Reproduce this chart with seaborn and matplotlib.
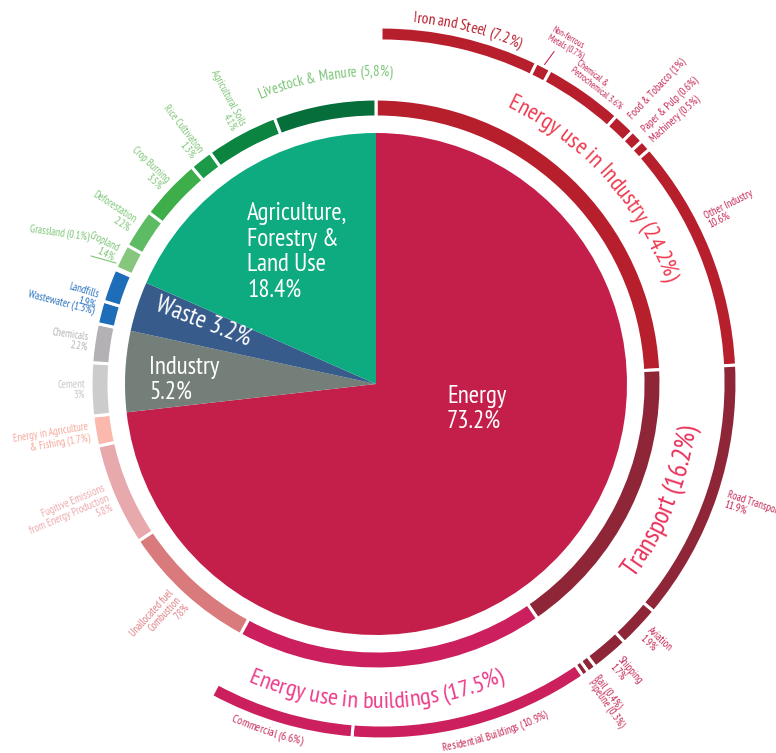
import numpy as np
import matplotlib
matplotlib.use("Agg")
import matplotlib.pyplot as plt
import matplotlib.font_manager as fm
from matplotlib.font_manager import FontProperties
import seaborn as sns

# ---------------- data ----------------
sector_labels = ["Energy\n73.2%", "Industry\n5.2%", "Waste 3.2%",
                 "Agriculture,\nForestry &\nLand Use\n18.4%"]
sector_share = [73.2, 5.2, 3.2, 18.4]

ring_labels = ["Energy use in Industry (24.2%)", "Transport (16.2%)",
               "Energy use in buildings (17.5%)",
               "Unallocated fuel\nCombustion\n7.8%",
               "Fugitive Emissions\nfrom Energy Production\n5.8%",
               "Energy in Agriculture\n& Fishing (1.7%)",
               "Cement\n3%", "Chemicals\n2.2%", "Wastewater (1.3%)", "Landfills\n1.9%",
               "Grassland (0.1%)", "Cropland\n1.4%", "Deforestation\n2.2%",
               "Crop Burning\n3.5%", "Rice Cultivation\n1.3%",
               "Agricultural Soils\n4.1%", "Livestock & Manure (5,8%)"]
ring_share = [24.2, 16.2, 17.5, 7.8, 5.8, 1.7, 3.0, 2.2, 1.3, 1.9,
              0.1, 1.4, 2.2, 3.5, 1.3, 4.1, 5.8]

industry_labels = ["Iron and Steel (7.2%)", "Non-ferrous\nMetals (0.7%)",
                   "Chemical &\nPetrochemical 3.6%", "Food & Tobacco (1%)",
                   "Paper & Pulp (0.6%)", "Machinery (0.5%)", "Other Industry\n10.6%"]
industry_share = [7.2, 0.7, 3.6, 1.0, 0.6, 0.5, 10.6]
transport_labels = ["Road Transport\n11.9%", "Aviation\n1.9%", "Shipping\n1.7%",
                    "Rail (0.4%)", "Pipeline (0.3%)"]
transport_share = [11.9, 1.9, 1.7, 0.4, 0.3]
buildings_labels = ["Residential Buildings (10.9%)", "Commercial (6.6%)"]
buildings_share = [10.9, 6.6]

# ---------------- style ----------------
sns.set_theme(style="white")
avail = {f.name for f in fm.fontManager.ttflist}
FONT = "DejaVu Sans"
for cand in ["PT Sans Narrow", "Fira Sans Condensed", "Ubuntu Condensed",
             "Open Sans Condensed", "Roboto Condensed", "Liberation Sans Narrow"]:
    if cand in avail:
        FONT = cand
        break
plt.rcParams["font.family"] = [FONT, "DejaVu Sans"]

sector_colors = ["#C41F4B", "#737F78", "#375B8B", "#0EAA80"]
ring_colors = ["#B81F2D", "#8E2638", "#CC1F5E", "#D97A7D", "#E8A9AD", "#FBB9AD",
               "#CBCCCB", "#B3B1B3", "#1E6DB8", "#1E6DB8", "#86C77D", "#86C77D",
               "#5DBB63", "#3EAE4B", "#1C9A47", "#0B8440", "#056E3A"]
label_colors = ["#EE3B50", "#E8305A", "#EC3F8C", "#E07F83", "#EDA8AC", "#F6A79A",
                "#C6C6C6", "#B4B4B4", "#2A72C0", "#2A72C0", "#7CC576", "#7CC576",
                "#7CC576", "#7CC576", "#7CC576", "#7CC576", "#7CC576"]
SUB_TEXT = "#C62A55"

W, H = 776, 753
CX, CY = 376, 369          # pie centre (pixel units, y up)
OX, OY = 381, 370          # centre of the outer sub-sector ring

fig = plt.figure(figsize=(W / 100, H / 100), dpi=100)
ax = fig.add_axes([0, 0, 1, 1])


def fprops(size):
    return FontProperties(family=[FONT, "DejaVu Sans"], size=size)


def advances(s, fp):
    font = fm.get_font(fm.findfont(fp))
    font.set_size(fp.get_size_in_points(), 100)
    return np.array([font.load_char(ord(c)).linearHoriAdvance / 65536 for c in s])


def fit_size(s, width_px, ref=10.0):
    return ref * width_px / advances(s, fprops(ref)).sum()


def polar(cx, cy, r, deg):
    t = np.radians(deg)
    return cx + r * np.cos(t), cy + r * np.sin(t)


def arc_text(s, cx, cy, r, a0, a1, color, clockwise):
    """Write s along a circle of baseline radius r from angle a0 to a1."""
    span = abs(a1 - a0) * np.pi / 180 * r
    size = fit_size(s, span)
    fp = fprops(size)
    adv = advances(s, fp)
    pos = np.cumsum(adv) - adv / 2
    for ch, p in zip(s, pos):
        d = np.degrees(p / r)
        th = a0 - d if clockwise else a0 + d
        x, y = polar(cx, cy, r, th)
        ax.text(x, y, ch, rotation=(th - 90) if clockwise else (th + 90),
                rotation_mode="anchor", ha="center", va="baseline",
                fontproperties=fp, color=color)


def bounds(values, start=90.0):
    cum = np.concatenate([[0], np.cumsum(values)])
    return start - 3.6 * cum[:-1], start - 3.6 * cum[1:]


# ---------------- centre pie ----------------
ax.pie(sector_share, colors=sector_colors, startangle=90, counterclock=False,
       radius=251, center=(CX, CY), wedgeprops=dict(linewidth=0))

# ---------------- sector ring ----------------
ax.pie(ring_share, colors=ring_colors, startangle=90, counterclock=False,
       radius=285, center=(CX, CY),
       wedgeprops=dict(width=18, edgecolor="white", linewidth=2.2))

# ---------------- sub-sector ring (energy end uses) ----------------
outer_share = industry_share + transport_share + buildings_share
outer_colors = ([ring_colors[0]] * len(industry_share) + [ring_colors[1]] * len(transport_share)
                + [ring_colors[2]] * len(buildings_share))
rest = 100 - sum(outer_share)
wedges, _ = ax.pie(outer_share + [rest], colors=outer_colors + ["white"], startangle=90,
                   counterclock=False, radius=356, center=(OX, OY),
                   wedgeprops=dict(width=14, edgecolor="white", linewidth=2.2))
wedges[-1].set_visible(False)

# ---------------- centre labels ----------------
big = fit_size("Agriculture,", 100)
ax.text(447, 344, sector_labels[0], color="white", fontsize=big, ha="left", va="center",
        linespacing=1.1)
ax.text(149, 373, sector_labels[1], color="white", fontsize=big, ha="left", va="center",
        linespacing=1.1)
ax.text(203, 431, sector_labels[2], color="white", fontsize=big, ha="center", va="center",
        rotation=-21)
ax.text(247, 501, sector_labels[3], color="white", fontsize=big, ha="left", va="center",
        linespacing=1.15)

# ---------------- curved headings ----------------
arc_text(ring_labels[0], CX, CY, 306, 64.7, 19.4, label_colors[0], True)
arc_text(ring_labels[1], CX, CY, 322, -37.0, -7.5, label_colors[1], False)
arc_text(ring_labels[2], CX, CY, 324, -113.3, -66.4, label_colors[2], False)
arc_text(ring_labels[-1], CX, CY, 308, 112.2, 87.1, label_colors[-1], True)
arc_text(industry_labels[0], OX, OY, 362, 85.0, 67.5, ring_colors[0], True)

# ---------------- left-hand sector labels (radial) ----------------
small_left = fit_size("Wastewater (1.3%)", 68)
t1, t2 = bounds(ring_share)
mids = (t1 + t2) / 2
nudge = {9: 3.6}
for i in range(3, len(ring_share) - 1):
    if i == 10:
        continue
    ang = mids[i] + nudge.get(i, 0)
    x, y = polar(CX, CY, 291, ang)
    ax.text(x, y, ring_labels[i], rotation=ang - 180, rotation_mode="anchor",
            ha="right", va="center", multialignment="right", fontsize=small_left,
            color=label_colors[i], linespacing=1.05)
# grassland: tiny slice, label with a leader line
ax.text(89, 516, ring_labels[10], rotation=-8, rotation_mode="anchor", ha="right",
        va="center", fontsize=small_left, color=label_colors[10])
ax.plot([91, 116], [H - 256, H - 263], color=label_colors[10], lw=0.8)

# ---------------- right-hand sub-sector labels ----------------
small_right = fit_size("Other Industry", 53)
o1, o2 = bounds(outer_share)
omids = (o1 + o2) / 2
sub_labels = industry_labels + transport_labels + buildings_labels
radial = {3: 0.0, 4: 0.0, 5: 0.0, 6: 4.5, 7: 0.0, 8: 0.0, 9: 0.0, 10: 0.0, 11: 0.0}
for i, off in radial.items():
    ang = omids[i] + off
    x, y = polar(OX, OY, 364, ang)
    ax.text(x, y, sub_labels[i], rotation=ang, rotation_mode="anchor", ha="left",
            va="center", fontsize=small_right, color=SUB_TEXT, linespacing=1.05)

# non-ferrous metals, with leader
x, y = polar(OX, OY, 389, 64.2)
ax.text(x, y, sub_labels[1], rotation=-30, rotation_mode="anchor", ha="left", va="center",
        fontsize=small_right * 0.8, color=SUB_TEXT, linespacing=1.05)
xa, ya = polar(OX, OY, 358, omids[1])
xb, yb = polar(OX, OY, 374, omids[1] - 0.4)
ax.plot([xa, xb], [ya, yb], color=SUB_TEXT, lw=0.8)
# chemical & petrochemical
x, y = polar(OX, OY, 372, 58.6)
ax.text(x, y, sub_labels[2], rotation=-38, rotation_mode="anchor", ha="left", va="center",
        fontsize=small_right * 0.86, color=SUB_TEXT, linespacing=1.05)

# buildings
arc_text(sub_labels[12], OX, OY, 373, -80.5, -63.4, SUB_TEXT, False)
arc_text(sub_labels[13], OX, OY, 370, -114.0, -102.5, SUB_TEXT, False)

ax.set_xlim(0, W)
ax.set_ylim(0, H)
ax.set_aspect("equal")
ax.axis("off")
fig.savefig("out.png", dpi=100, facecolor="white")
